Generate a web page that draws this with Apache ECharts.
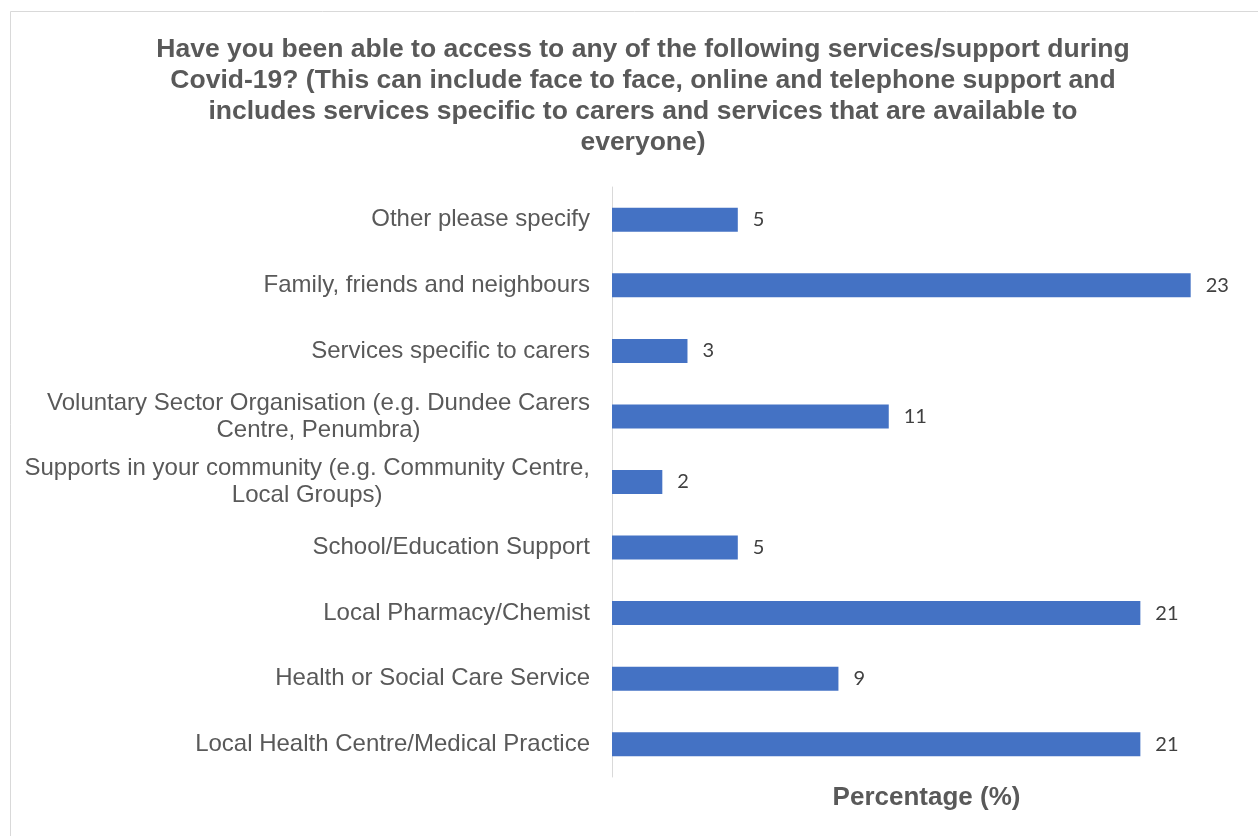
<!DOCTYPE html>
<html>
<head>
<meta charset="utf-8">
<style>
  html, body { margin: 0; padding: 0; background: #ffffff; }
  #chart { width: 1258px; height: 836px; }
</style>
<script src="https://cdn.jsdelivr.net/npm/echarts@6/dist/echarts.min.js"></script>
</head>
<body>
<div id="chart"></div>
<script>
// Services accessed during Covid-19, listed top to bottom
const categories = [
  'Other please specify',
  'Family, friends and neighbours',
  'Services specific to carers',
  'Voluntary Sector Organisation (e.g. Dundee Carers\nCentre, Penumbra)',
  'Supports in your community (e.g. Community Centre,\nLocal Groups)',
  'School/Education Support',
  'Local Pharmacy/Chemist',
  'Health or Social Care Service',
  'Local Health Centre/Medical Practice'
];
const percentages = [5, 23, 3, 11, 2, 5, 21, 9, 21];

const titleLines = [
  'Have you been able to access to any of the following services/support during',
  'Covid-19? (This can include face to face, online and telephone support and',
  'includes services specific to carers and services that are available to',
  'everyone)'
];
const axisTitle = 'Percentage (%)';

const chart = echarts.init(document.getElementById('chart'), null, { renderer: 'canvas' });

chart.setOption({
  animation: false,
  backgroundColor: '#ffffff',
  title: {
    text: titleLines.join('\n'),
    left: 638,
    top: 29,
    textAlign: 'center',
    textStyle: {
      fontFamily: 'Liberation Sans, Arial, sans-serif',
      fontWeight: 'bold',
      fontSize: 26.5,
      lineHeight: 31,
      color: '#595959'
    }
  },
  graphic: [{
    type: 'rect',
    silent: true,
    shape: { x: 10.5, y: 11.5, width: 1300, height: 900 },
    style: { fill: 'none', stroke: '#d9d9d9', lineWidth: 1 }
  }],
  grid: { left: 612, right: 17, top: 187, bottom: 59, containLabel: false },
  xAxis: {
    type: 'value',
    min: 0,
    max: 25,
    name: axisTitle,
    nameLocation: 'middle',
    nameGap: 8,
    nameTextStyle: {
      fontFamily: 'Liberation Sans, Arial, sans-serif',
      fontWeight: 'bold',
      fontSize: 26,
      color: '#595959'
    },
    axisLine: { show: false },
    axisTick: { show: false },
    axisLabel: { show: false },
    splitLine: { show: false }
  },
  yAxis: {
    type: 'category',
    inverse: true,
    data: categories,
    axisLine: { show: true, lineStyle: { color: '#d9d9d9', width: 1 } },
    axisTick: { show: false },
    axisLabel: {
      margin: 22,
      formatter: function (v) {
        return v.split('\n').map(function (l) { return '{c|' + l + '}'; }).join('\n');
      },
      rich: {
        c: {
          align: 'center',
          fontFamily: 'Liberation Sans, Arial, sans-serif',
          fontSize: 24,
          lineHeight: 27,
          color: '#595959'
        }
      }
    }
  },
  series: [{
    type: 'bar',
    data: percentages,
    barWidth: 24,
    itemStyle: { color: '#4472c4' },
    label: {
      show: true,
      position: 'right',
      distance: 15,
      fontFamily: 'Lato, Open Sans, sans-serif',
      fontSize: 20,
      color: '#404040'
    }
  }]
});
</script>
</body>
</html>
